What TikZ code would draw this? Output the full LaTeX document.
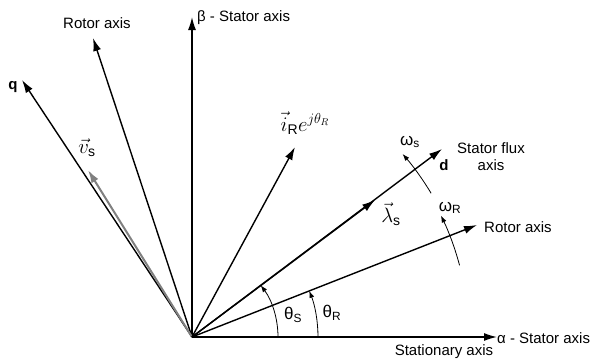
\documentclass[tikz,border=0pt]{standalone}
\usepackage{fontspec}
\setmainfont{Liberation Sans}
\usepackage{tikz}
\usetikzlibrary{arrows.meta}

\begin{document}
\begin{tikzpicture}[x=1pt,y=1pt,
  vec/.style={-{Latex[length=13pt,width=8pt]},line width=1.4pt},
  rot/.style={-{Latex[length=7pt,width=5pt]},line width=0.8pt},
  lbl/.style={inner sep=0pt,font=\fontsize{15}{17}\selectfont},
  sym/.style={inner sep=0pt,font=\fontsize{17}{19}\selectfont},
  vsym/.style={inner sep=0pt,font=\fontsize{20}{22}\selectfont}]
\useasboundingbox (0,0) rectangle (603,360);
\coordinate (O) at (192,23);
% axes and vectors
\coordinate (alpha) at (497,23);
\coordinate (beta) at (192,343);
\coordinate (rotA) at (93,322);
\coordinate (qax) at (22,280);
\coordinate (vs) at (88,190);
\coordinate (iR) at (295,213);
\coordinate (dax) at (442,211);
\coordinate (lam) at (375,160);
\coordinate (rotB) at (477,135);
\draw[vec] (O) -- (alpha);
\draw[vec] (O) -- (beta);
\draw[vec] (O) -- (rotA);
\draw[vec] (O) -- (qax);
\draw[vec,draw=gray,line width=2pt] (O) -- (vs);
\draw[vec] (O) -- (iR);
\draw[vec] (O) -- (dax);
\draw[vec] (O) -- (lam);
\draw[vec] (O) -- (rotB);
% angles and speeds
\draw[rot] ([shift={(O)}]0:86) arc (0:37:86);
\draw[rot] ([shift={(O)}]0:126) arc (0:21.5:126);
\draw[rot] ([shift={(O)}]31:279) arc (31:41:279);
\draw[rot] ([shift={(O)}]15:277) arc (15:26:277);
% labels
\node[lbl] (lq) at (13,273) {\textbf{q}};
\node[lbl] (lrotA) at (97,337) {Rotor axis};
\node[lbl,anchor=west] (lbeta) at (197,342) {β - Stator axis};
\node[vsym] (lvs) at (87,212) {$\vec{v}_{\mathrm{s}}$};
\node[vsym] (liR) at (305,237) {$\vec{i}_{\mathrm{R}}e^{j\theta_R}$};
\node[sym] (lws) at (410,218) {ω\textsubscript{s}};
\node[lbl] (ld) at (444,195) {\textbf{d}};
\node[lbl,align=center] (lflux) at (491,203) {Stator flux\\axis};
\node[vsym] (llam) at (391,146) {$\vec{\lambda}_{\mathrm{s}}$};
\node[sym] (lwR) at (450,152) {ω\textsubscript{R}};
\node[lbl,anchor=west] (lrotB) at (484,133) {Rotor axis};
\node[lbl,anchor=west] (lalpha) at (497,22) {α - Stator axis};
\node[lbl] (lstat) at (444,8) {Stationary axis};
\node[sym] (lthS) at (293,45) {θ\textsubscript{S}};
\node[sym] (lthR) at (332,47) {θ\textsubscript{R}};
\end{tikzpicture}
\end{document}
